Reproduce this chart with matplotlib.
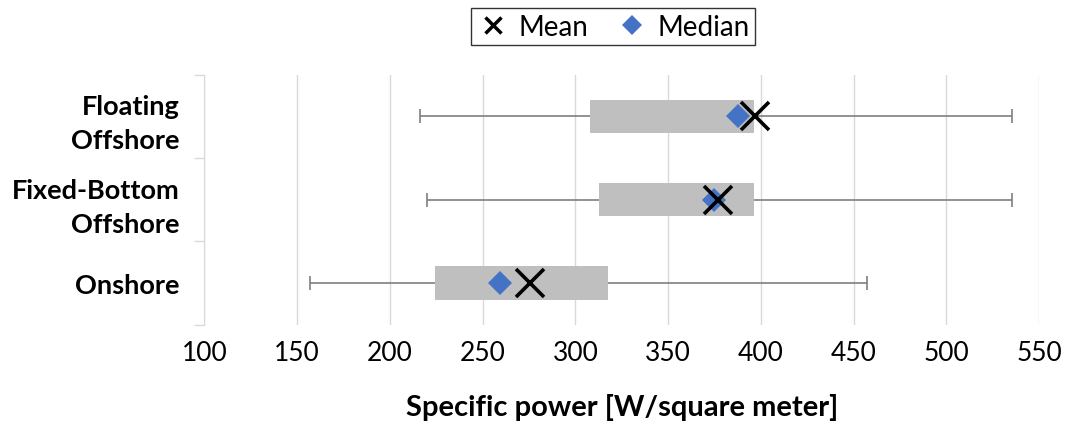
import matplotlib
matplotlib.use("Agg")
import matplotlib.pyplot as plt
from matplotlib.lines import Line2D

plt.rcParams['font.family'] = ['Lato', 'DejaVu Sans']

categories = ["Onshore", "Fixed-Bottom\nOffshore", "Floating\nOffshore"]
whisker_low = [157, 220, 216]
q1 = [224.5, 313, 308]
q3 = [317.5, 396.5, 396.5]
whisker_high = [457, 535.5, 535.5]
mean_vals = [275.5, 377, 397]
median_vals = [259.5, 375, 387.5]
xticks = [100, 150, 200, 250, 300, 350, 400, 450, 500, 550]

fig = plt.figure(figsize=(10.66, 4.27), dpi=100)
ax = fig.add_axes([0.1917, 0.2372, 0.7830, 0.5855])

ypos = list(range(len(categories)))
grey_line = "#7F7F7F"

ax.hlines(ypos, whisker_low, whisker_high, color=grey_line, lw=1.2, zorder=2)
ax.plot(whisker_low, ypos, ls='none', marker='|', ms=10, mew=1.2, color=grey_line, zorder=2)
ax.plot(whisker_high, ypos, ls='none', marker='|', ms=10, mew=1.2, color=grey_line, zorder=2)
widths = [b - a for a, b in zip(q1, q3)]
ax.barh(ypos, widths, left=q1, height=0.4, color="#BFBFBF", edgecolor='none', zorder=3)
ax.plot(median_vals, ypos, ls='none', marker='D', ms=12.5, color="#4472C4", mew=0, zorder=4)
ax.plot(mean_vals, ypos, ls='none', marker='x', ms=20, mew=2.6, color="black", zorder=5)

ax.set_xlim(100, 550)
ax.set_ylim(-0.5, 2.5)
ax.set_xticks(xticks)
ax.set_xticklabels([str(t) for t in xticks], fontsize=19)
ax.tick_params(axis='x', length=0, pad=11)
ax.set_yticks([-0.5, 0.5, 1.5, 2.5], minor=False)
ax.set_yticklabels([])
ax.set_yticks(ypos, minor=True)
ax.set_yticklabels(categories, minor=True, fontsize=19.5, fontweight='bold', ha='right',
                   linespacing=1.5)
ax.tick_params(axis='y', which='major', length=7, color="#D9D9D9", width=1)
ax.tick_params(axis='y', which='minor', length=0, pad=18)
ax.grid(axis='x', color="#D9D9D9", lw=1)
ax.set_axisbelow(True)
for s in ['top', 'right', 'bottom']:
    ax.spines[s].set_visible(False)
ax.spines['left'].set_color("#D9D9D9")
ax.set_xlabel("Specific power [W/square meter]", fontsize=21, fontweight='bold', labelpad=20)

handles = [Line2D([], [], ls='none', marker='x', ms=12, mew=2.5, color='black'),
           Line2D([], [], ls='none', marker='D', ms=10, mew=0, color="#4472C4")]
leg = fig.legend(handles, ["Mean", "Median"], loc='center', bbox_to_anchor=(613/1066, 1 - 27.5/427),
                 ncol=2, fontsize=20, frameon=True, fancybox=False, edgecolor='black',
                 handletextpad=0.3, columnspacing=1.0, handlelength=1.2, borderpad=0.2,
                 borderaxespad=0)
leg.get_frame().set_linewidth(1.0)

fig.savefig("out.png", dpi=100)
